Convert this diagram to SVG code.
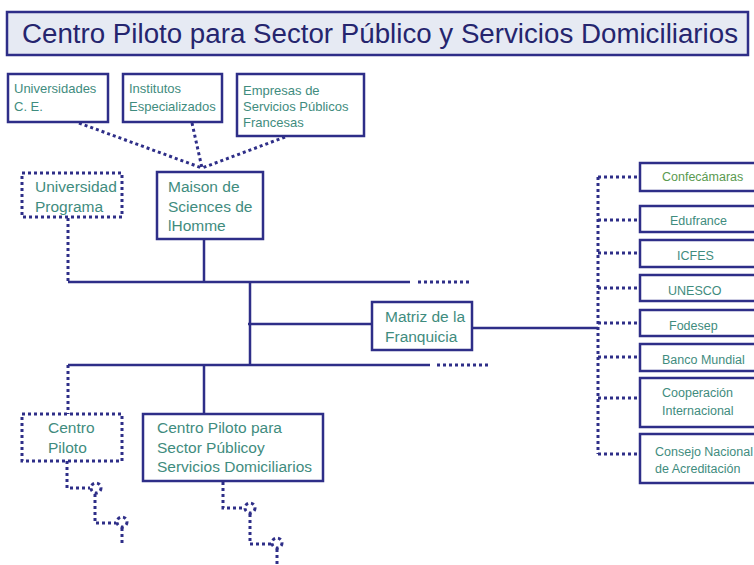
<svg xmlns="http://www.w3.org/2000/svg" width="754" height="565" viewBox="0 0 754 565">
<style>
.box{fill:#ffffff;stroke:#2e2e88;stroke-width:2.5}
.dbox{fill:#ffffff;stroke:#2e2e88;stroke-width:3;stroke-dasharray:3 3}
.ln{fill:none;stroke:#2e2e88;stroke-width:2.5}
.dot{fill:none;stroke:#2e2e88;stroke-width:3;stroke-dasharray:3 3}
.t{font-family:"Liberation Sans",Arial,sans-serif;fill:#3f8c7e}
.s{font-size:13px}
.m{font-size:15.5px}
.r{font-size:12.5px}
</style>
<rect width="754" height="565" fill="#ffffff"/>
<g id="title">
<rect x="7" y="12" width="741" height="43" fill="#e6eaf3" stroke="#2e2e88" stroke-width="2.5"/>
<text x="22" y="43" font-family="Liberation Sans,Arial,sans-serif" font-size="27" fill="#25256e" textLength="716" lengthAdjust="spacingAndGlyphs">Centro Piloto para Sector Público y Servicios Domiciliarios</text>
</g>
<g id="connectors">
<path class="dot" d="M79,123 L202,168 M192,123 L202,168 M285,137 L202,168"/>
<path class="dot" d="M68,218 V282"/>
<path class="ln" d="M68,282 H410 M204,239 V282 M250,282 V365 M248,324 H372 M68,365 H430 M204,365 V414 M472,328 H598"/>
<path class="dot" d="M418,282 H470 M437,365 H490"/>
<path class="dot" d="M68,365 V414"/>
<path class="dot" d="M598,177 V454 M598,177 H640 M598,220 H640 M598,253 H640 M598,288 H640 M598,323 H640 M598,357 H640 M598,398 H640 M598,454 H640"/>
<path class="dot" d="M67,461 V488 H90 M95,494 V523 H116 M122,528 V546"/>
<circle class="dot" cx="96" cy="488" r="5" stroke-dasharray="2.5 2.5"/>
<circle class="dot" cx="122" cy="522" r="5" stroke-dasharray="2.5 2.5"/>
<path class="dot" d="M223,482 V508 H244 M250,514 V544 H271 M277,549 V565"/>
<circle class="dot" cx="250" cy="508" r="5" stroke-dasharray="2.5 2.5"/>
<circle class="dot" cx="277" cy="543" r="5" stroke-dasharray="2.5 2.5"/>
</g>
<g id="universidades">
<rect class="box" x="8" y="74" width="100" height="48"/>
<text class="t s" x="14" y="93">Universidades</text>
<text class="t s" x="14" y="111">C. E.</text>
</g>
<g id="institutos">
<rect class="box" x="123" y="74" width="99" height="48"/>
<text class="t s" x="129" y="93">Institutos</text>
<text class="t s" x="129" y="111">Especializados</text>
</g>
<g id="empresas">
<rect class="box" x="237" y="74" width="127" height="62"/>
<text class="t s" x="243" y="95">Empresas de</text>
<text class="t s" x="243" y="111">Servicios Públicos</text>
<text class="t s" x="243" y="127">Francesas</text>
</g>
<g id="universidad-programa">
<rect class="dbox" x="22" y="173" width="100" height="44"/>
<text class="t m" x="35" y="192">Universidad</text>
<text class="t m" x="35" y="212">Programa</text>
</g>
<g id="maison">
<rect class="box" x="157" y="172" width="106" height="67"/>
<text class="t m" x="168" y="192">Maison de</text>
<text class="t m" x="168" y="212">Sciences de</text>
<text class="t m" x="168" y="231">lHomme</text>
</g>
<g id="matriz">
<rect class="box" x="372" y="302" width="100" height="48"/>
<text class="t m" x="385" y="322">Matriz de la</text>
<text class="t m" x="385" y="342">Franquicia</text>
</g>
<g id="centro-piloto">
<rect class="dbox" x="22" y="414" width="100" height="47"/>
<text class="t m" x="48" y="433">Centro</text>
<text class="t m" x="48" y="453">Piloto</text>
</g>
<g id="centro-piloto-sector">
<rect class="box" x="143" y="414" width="180" height="67"/>
<text class="t m" x="157" y="433">Centro Piloto para</text>
<text class="t m" x="157" y="453">Sector Públicoy</text>
<text class="t m" x="157" y="472">Servicios Domiciliarios</text>
</g>
<g id="confecamaras">
<rect class="box" x="640" y="163" width="120" height="28"/>
<text class="t r" x="662" y="181" style="fill:#5a9a50">Confecámaras</text>
</g>
<g id="edufrance">
<rect class="box" x="640" y="206" width="120" height="26"/>
<text class="t r" x="670" y="225">Edufrance</text>
</g>
<g id="icfes">
<rect class="box" x="640" y="240" width="120" height="27"/>
<text class="t r" x="677" y="260">ICFES</text>
</g>
<g id="unesco">
<rect class="box" x="640" y="275" width="120" height="26"/>
<text class="t r" x="668" y="295">UNESCO</text>
</g>
<g id="fodesep">
<rect class="box" x="640" y="310" width="120" height="26"/>
<text class="t r" x="669" y="330">Fodesep</text>
</g>
<g id="banco-mundial">
<rect class="box" x="640" y="344" width="120" height="27"/>
<text class="t r" x="662" y="364">Banco Mundial</text>
</g>
<g id="cooperacion">
<rect class="box" x="640" y="378" width="120" height="49"/>
<text class="t r" x="662" y="397">Cooperación</text>
<text class="t r" x="662" y="415">Internacional</text>
</g>
<g id="consejo">
<rect class="box" x="640" y="434" width="120" height="49"/>
<text class="t r" x="655" y="456">Consejo Nacional</text>
<text class="t r" x="655" y="473">de Acreditación</text>
</g>
</svg>
